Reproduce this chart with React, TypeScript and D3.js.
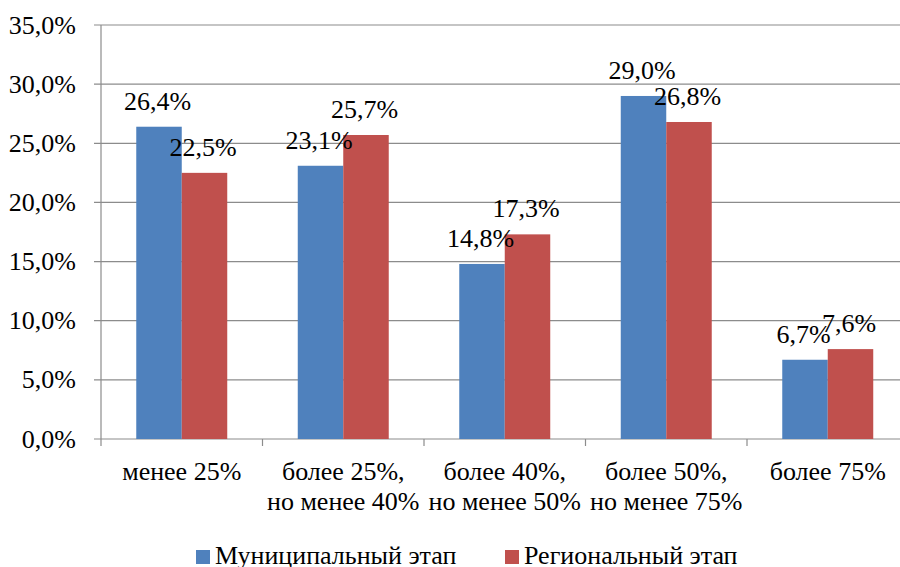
import React, { useEffect, useRef } from 'react';
import * as d3 from 'd3';

const CATEGORIES = ['менее 25%', 'более 25%, но менее 40%', 'более 40%, но менее 50%', 'более 50%, но менее 75%', 'более 75%'];
const CATEGORY_LINES = [
  ['менее 25%'],
  ['более 25%,', 'но менее 40%'],
  ['более 40%,', 'но менее 50%'],
  ['более 50%,', 'но менее 75%'],
  ['более 75%'],
];
const SERIES = ['Муниципальный этап', 'Региональный этап'];
const MUNICIPAL = [26.4, 23.1, 14.8, 29.0, 6.7];
const REGIONAL = [22.5, 25.7, 17.3, 26.8, 7.6];
const Y_TICKS = [0, 5, 10, 15, 20, 25, 30, 35];
const COLORS = ['#4F81BD', '#C0504D'];

const FONT = 'Liberation Serif, Times New Roman, serif';
const FS = 26;
const fmt = (v: number) => v.toFixed(1).replace('.', ',') + '%';

const App: React.FC = () => {
  const svgRef = useRef<SVGSVGElement>(null);

  useEffect(() => {
    if (!svgRef.current) return;
    const svg = d3.select(svgRef.current);
    svg.selectAll('*').remove();

    const W = 900;
    const H = 567;
    const left = 101;
    const right = 908.5; // plot runs past the picture edge
    const top = 25;
    const bottom = 439;
    const gridColor = '#8C8C8C';

    svg.attr('width', W).attr('height', H);

    const x = d3.scaleBand<string>().domain(CATEGORIES).range([left, right]).padding(0);
    const xs = d3.scaleBand<string>().domain(SERIES).range([0, x.bandwidth()])
      .paddingInner(0).paddingOuter(0.775);
    const y = d3.scaleLinear().domain([0, 35]).range([bottom, top]);

    // horizontal grid + y ticks
    svg.selectAll('.grid')
      .data(Y_TICKS)
      .enter()
      .append('line')
      .attr('x1', left - 7)
      .attr('x2', right)
      .attr('y1', d => y(d))
      .attr('y2', d => y(d))
      .attr('stroke', gridColor)
      .attr('stroke-width', 1.2);

    svg.selectAll('.ylabel')
      .data(Y_TICKS)
      .enter()
      .append('text')
      .attr('x', 76)
      .attr('y', d => y(d))
      .attr('dy', '0.33em')
      .attr('text-anchor', 'end')
      .attr('font-family', FONT)
      .attr('font-size', FS)
      .attr('fill', '#000')
      .text(d => fmt(d));

    // y axis line
    svg.append('line')
      .attr('x1', left).attr('x2', left)
      .attr('y1', top).attr('y2', bottom)
      .attr('stroke', gridColor).attr('stroke-width', 1.2);

    // x ticks at category boundaries
    const bounds = CATEGORIES.map(c => x(c) as number).concat([right]);
    svg.selectAll('.xtick')
      .data(bounds)
      .enter()
      .append('line')
      .attr('x1', d => d).attr('x2', d => d)
      .attr('y1', bottom).attr('y2', bottom + 7)
      .attr('stroke', gridColor).attr('stroke-width', 1.2);

    // bars
    const seriesData = [MUNICIPAL, REGIONAL];
    seriesData.forEach((vals, si) => {
      const g = svg.append('g');
      g.selectAll('rect')
        .data(vals)
        .enter()
        .append('rect')
        .attr('x', (d, i) => (x(CATEGORIES[i]) as number) + (xs(SERIES[si]) as number))
        .attr('y', d => y(d))
        .attr('width', xs.bandwidth())
        .attr('height', d => bottom - y(d))
        .attr('fill', COLORS[si]);
    });

    // value labels
    seriesData.forEach((vals, si) => {
      svg.append('g').selectAll('text')
        .data(vals)
        .enter()
        .append('text')
        .attr('x', (d, i) => (x(CATEGORIES[i]) as number) + (xs(SERIES[si]) as number) + xs.bandwidth() / 2 - 1.5)
        .attr('y', d => y(d) - 17)
        .attr('text-anchor', 'middle')
        .attr('font-family', FONT)
        .attr('font-size', FS)
        .attr('fill', '#000')
        .text(d => fmt(d));
    });

    // category labels
    CATEGORY_LINES.forEach((lines, i) => {
      const cx = (x(CATEGORIES[i]) as number) + x.bandwidth() / 2;
      const t = svg.append('text')
        .attr('x', cx)
        .attr('y', 480)
        .attr('text-anchor', 'middle')
        .attr('font-family', FONT)
        .attr('font-size', FS)
        .attr('fill', '#000');
      lines.forEach((ln, j) => {
        t.append('tspan')
          .attr('x', cx)
          .attr('dy', j === 0 ? 0 : 29.5)
          .text(ln);
      });
    });

    // legend
    const legendX = [196, 505];
    SERIES.forEach((s, i) => {
      svg.append('rect')
        .attr('x', legendX[i]).attr('y', 550)
        .attr('width', 14).attr('height', 14)
        .attr('fill', COLORS[i]);
      svg.append('text')
        .attr('x', legendX[i] + 19)
        .attr('y', 564)
        .attr('font-family', FONT)
        .attr('font-size', FS)
        .attr('fill', '#000')
        .text(s);
    });
  }, []);

  return (
    <div style={{ position: 'absolute', left: 0, top: 0, width: 900, height: 567, overflow: 'hidden', background: '#fff' }}>
      <svg ref={svgRef} style={{ display: 'block' }}></svg>
    </div>
  );
};

export default App;
